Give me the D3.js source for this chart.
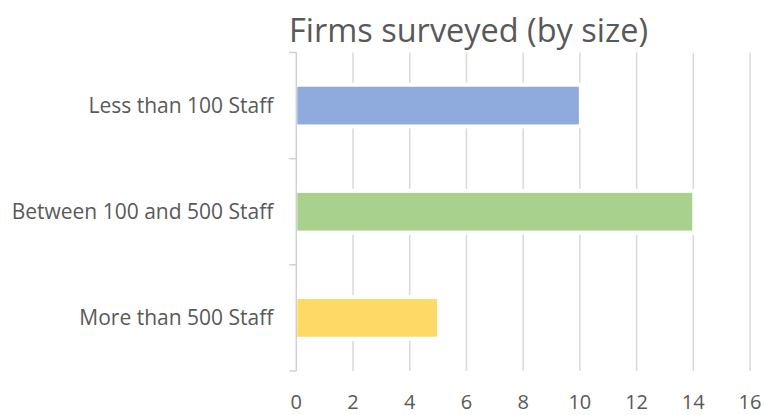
<!DOCTYPE html>
<html><head><meta charset="utf-8">
<script src="https://cdn.jsdelivr.net/npm/d3@7"></script>
<style>body{margin:0;background:#fff;} svg{display:block;}</style>
</head><body>
<svg id="c" width="766" height="415"></svg>
<script>
const categories = ["Less than 100 Staff", "Between 100 and 500 Staff", "More than 500 Staff"];
const values = [10, 14, 5];
const colors = ["#8faadc", "#a9d18e", "#ffd966"];
const xTicks = [0, 2, 4, 6, 8, 10, 12, 14, 16];
const title = "Firms surveyed (by size)";

const svg = d3.select("#c");
const font = "'Open Sans', Lato, sans-serif";
const pL = 296.3, pR = 750, pT = 52.5, pB = 371;

const x = d3.scaleLinear().domain([0, 16]).range([pL, pR]);
const y = d3.scaleBand().domain(categories).range([pT, pB]).paddingInner(0.645).paddingOuter(0.3225);
const yb = d3.scaleBand().domain(categories).range([pT, pB]);

// gridlines
svg.append("g").selectAll("line").data(xTicks.slice(1)).join("line")
  .attr("x1", d => x(d)).attr("x2", d => x(d))
  .attr("y1", pT).attr("y2", pB)
  .attr("stroke", "#d9d9d9").attr("stroke-width", 1.5);

// left axis with category boundary ticks
const bounds = categories.map(c => yb(c)).concat([pB]);
svg.append("line").attr("x1", pL).attr("x2", pL).attr("y1", pT).attr("y2", pB)
  .attr("stroke", "#d0d0d0").attr("stroke-width", 1.5);
svg.append("g").selectAll("line").data(bounds).join("line")
  .attr("x1", pL - 7).attr("x2", pL).attr("y1", d => d).attr("y2", d => d)
  .attr("stroke", "#d0d0d0").attr("stroke-width", 1.5);

// bar halos and bars
const bars = svg.append("g");
bars.selectAll("rect.halo").data(values).join("rect").attr("class", "halo")
  .attr("x", x(0) + 1).attr("y", (d, i) => y(categories[i]) - 4)
  .attr("width", d => x(d) - x(0) + 3).attr("height", y.bandwidth() + 8)
  .attr("fill", "#fff");
bars.selectAll("rect.bar").data(values).join("rect").attr("class", "bar")
  .attr("x", x(0) + 1).attr("y", (d, i) => y(categories[i]))
  .attr("width", d => x(d) - x(0) - 2).attr("height", y.bandwidth())
  .attr("fill", (d, i) => colors[i]);

// category labels
svg.append("g").selectAll("text").data(categories).join("text")
  .attr("x", pL - 23).attr("y", d => yb(d) + yb.bandwidth() / 2 + 7)
  .attr("text-anchor", "end")
  .attr("font-family", font).attr("font-size", 21).attr("fill", "#595959")
  .text(d => d);

// x tick labels
svg.append("g").selectAll("text").data(xTicks).join("text")
  .attr("x", d => x(d)).attr("y", 409)
  .attr("text-anchor", "middle")
  .attr("font-family", font).attr("font-size", 20).attr("fill", "#595959")
  .text(d => d);

// title
const t = svg.append("text").attr("x", 468.5).attr("y", 42).attr("text-anchor", "middle")
  .attr("font-family", font).attr("font-size", 30).attr("fill", "#595959")
  .text(title);
const w = t.node().getComputedTextLength();
t.attr("font-size", 30 * 359 / w);
</script>
</body></html>
